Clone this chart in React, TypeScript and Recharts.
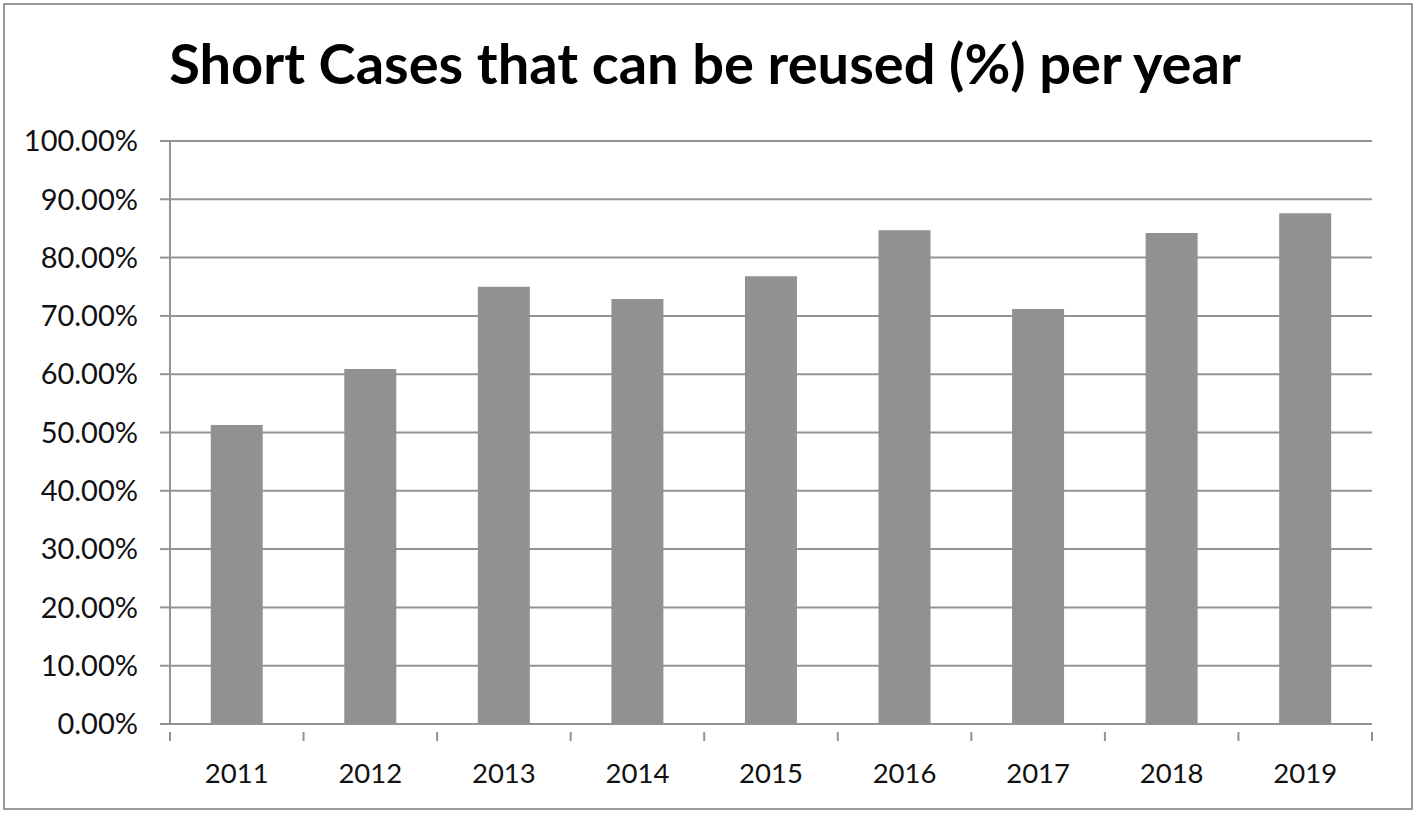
import React from 'react';
import { BarChart, Bar, XAxis, YAxis, CartesianGrid } from 'recharts';

const years = ['2011', '2012', '2013', '2014', '2015', '2016', '2017', '2018', '2019'];
const reusedPct = [51.3, 60.9, 75.0, 72.9, 76.8, 84.7, 71.2, 84.2, 87.6];
const yTicks = [0, 10, 20, 30, 40, 50, 60, 70, 80, 90, 100];

const data = years.map((year, i) => ({ year, value: reusedPct[i] }));

const W = 1418;
const H = 816;
const LEFT = 170;
const RIGHT = 46;
const BAND = (W - LEFT - RIGHT) / years.length;
const GRID = '#939393';
const FONT = 'Lato, "Open Sans", sans-serif';

// category label plus boundary tick marks (Excel style)
const YearTick = (props: any) => {
  const { x, y, payload, index } = props;
  const last = index === years.length - 1;
  return (
    <g>
      <line x1={x - BAND / 2} y1={y} x2={x - BAND / 2} y2={y + 9} stroke={GRID} strokeWidth={2} />
      {last && <line x1={x + BAND / 2} y1={y} x2={x + BAND / 2} y2={y + 9} stroke={GRID} strokeWidth={2} />}
      <text x={x} y={y + 51} textAnchor="middle" fontSize={27.5} fontFamily={FONT} fill="#111">
        {payload.value}
      </text>
    </g>
  );
};

export default function App() {
  return (
    <div style={{ position: 'absolute', left: 0, top: 0, width: W, height: H, background: '#fff' }}>
      <div
        style={{
          position: 'absolute', left: 3, top: 3, width: W - 8, height: H - 9,
          border: '2px solid #9a9a9a', boxSizing: 'border-box',
        }}
      />
      <div
        style={{
          position: 'absolute', left: 0, width: W, top: 31, textAlign: 'center',
          fontFamily: FONT, fontWeight: 700, fontSize: 56, lineHeight: '64px', color: '#000',
          paddingRight: 8, boxSizing: 'border-box',
        }}
      >
        Short Cases that can be reused (%) per year
      </div>
      <BarChart
        width={W}
        height={H}
        data={data}
        margin={{ top: 141, right: RIGHT, bottom: 0, left: 0 }}
        barCategoryGap="30.5%"
        style={{ position: 'absolute', left: 0, top: 0 }}
      >
        <CartesianGrid vertical={false} stroke={GRID} strokeWidth={2} />
        <XAxis
          dataKey="year"
          height={H - 724}
          axisLine={{ stroke: GRID, strokeWidth: 2 }}
          tickLine={false}
          tick={<YearTick />}
          interval={0}
        />
        <YAxis
          width={LEFT}
          domain={[0, 100]}
          ticks={yTicks}
          interval={0}
          axisLine={{ stroke: GRID, strokeWidth: 2 }}
          tickLine={{ stroke: GRID, strokeWidth: 2 }}
          tickSize={10}
          tickMargin={22}
          tickFormatter={(v: number) => `${v.toFixed(2)}%`}
          tick={{ fontSize: 29, fontFamily: FONT, fill: '#111' }}
        />
        <Bar dataKey="value" fill="#919191" isAnimationActive={false} />
      </BarChart>
    </div>
  );
}
